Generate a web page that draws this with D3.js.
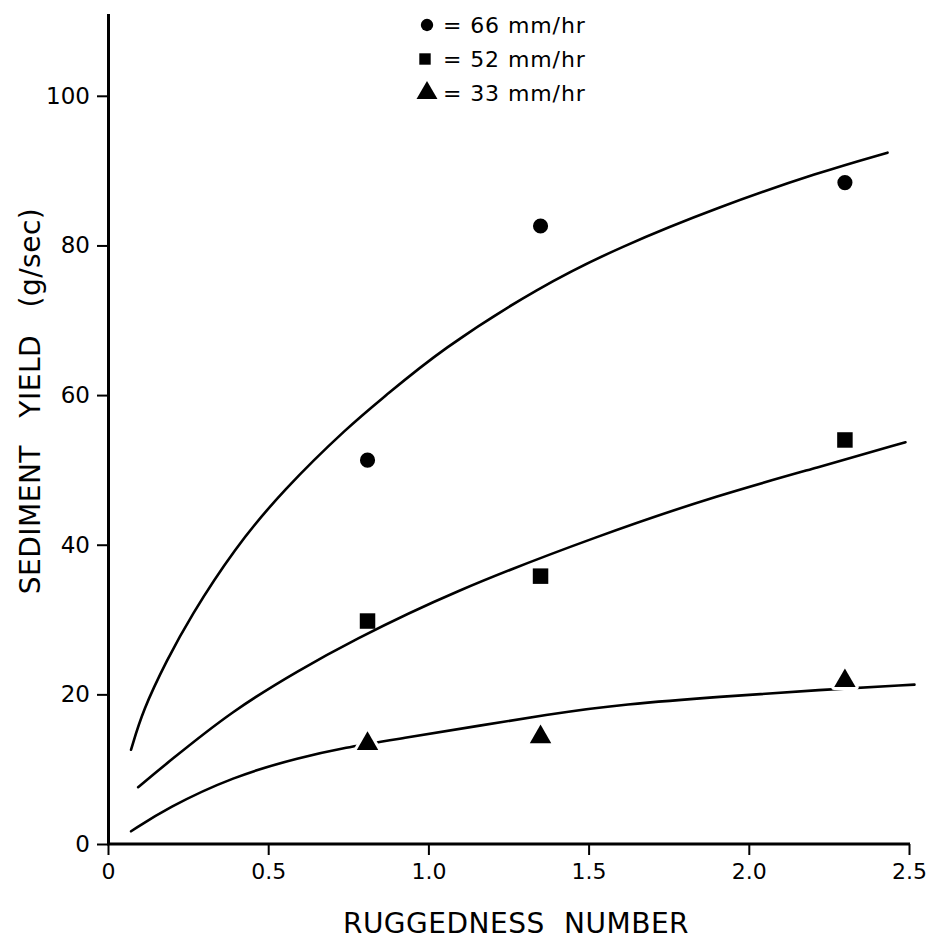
<!DOCTYPE html>
<html>
<head>
<meta charset="utf-8">
<script src="https://cdn.jsdelivr.net/npm/d3@7"></script>
<style>
  html, body { margin: 0; padding: 0; background: #fff; }
  svg { display: block; font-family: "DejaVu Sans", sans-serif; }
</style>
</head>
<body>
<svg id="chart" width="932" height="951"></svg>
<script>
// ---- data ----
const intensities = ["66 mm/hr", "52 mm/hr", "33 mm/hr"];
const ruggedness = [0.81, 1.35, 2.30];
const yield66 = [51.3, 82.6, 88.4];
const yield52 = [29.8, 35.8, 54.0];
const yield33 = [13.4, 14.3, 21.8];

// fitted curves
const curveX66 = [0.072, 0.109, 0.184, 0.256, 0.393, 0.546, 0.755, 0.858, 1.036, 1.347, 1.597, 1.909, 2.221, 2.433];
const curveY66 = [12.6, 17.9, 24.6, 30.3, 39.4, 47.3, 56.0, 59.6, 66.0, 74.5, 79.8, 85.2, 89.8, 92.4];
const curveX52 = [0.094, 0.184, 0.390, 0.599, 0.755, 1.067, 1.535, 1.909, 2.221, 2.489];
const curveY52 = [7.6, 10.8, 17.9, 23.3, 27.0, 33.6, 41.3, 46.7, 50.4, 53.7];
const curveX33 = [0.072, 0.184, 0.390, 0.599, 0.755, 0.842, 1.441, 1.597, 1.909, 2.221, 2.517];
const curveY33 = [1.7, 4.8, 9.0, 11.6, 13.0, 13.6, 17.8, 18.6, 19.7, 20.6, 21.3];

const xTicks = [0, 0.5, 1.0, 1.5, 2.0, 2.5];
const xTickLabels = ["0", "0.5", "1.0", "1.5", "2.0", "2.5"];
const yTicks = [0, 20, 40, 60, 80, 100];
const xTitle = "RUGGEDNESS NUMBER";
const yTitle = "SEDIMENT YIELD (g/sec)";

// ---- build ----
const svg = d3.select("#chart");
const x = d3.scaleLinear().domain([0, 2.5]).range([108, 909]);
const y = d3.scaleLinear().domain([0, 111]).range([844, 13.5]);

const series = [
  { name: intensities[0], vals: yield66, cx: curveX66, cy: curveY66, shape: d3.symbolCircle, size: 180 },
  { name: intensities[1], vals: yield52, cx: curveX52, cy: curveY52, shape: d3.symbolSquare, size: 240 },
  { name: intensities[2], vals: yield33, cx: curveX33, cy: curveY33, shape: d3.symbolTriangle, size: 200 }
];

// curves
const line = d3.line().x(d => x(d[0])).y(d => y(d[1])).curve(d3.curveBasis);
series.forEach(s => {
  svg.append("path")
    .attr("d", line(s.cx.map((v, i) => [v, s.cy[i]])))
    .attr("fill", "none")
    .attr("stroke", "#000")
    .attr("stroke-width", 2.6)
    .attr("stroke-linecap", "round");
});

// markers
series.forEach(s => {
  svg.selectAll(null)
    .data(s.vals.map((v, i) => [ruggedness[i], v]))
    .join("path")
    .attr("transform", d => `translate(${x(d[0])},${y(d[1])})`)
    .attr("d", d3.symbol().type(s.shape).size(s.size)())
    .attr("fill", "#000")
    .attr("stroke", s.shape === d3.symbolTriangle ? "#fff" : "none")
    .attr("stroke-width", 6)
    .attr("stroke-linejoin", "round")
    .style("paint-order", "stroke");
});

// axes
const xAxis = d3.axisBottom(x).tickValues(xTicks)
  .tickFormat((d, i) => xTickLabels[i]).tickSize(11).tickSizeOuter(0).tickPadding(8);
const gx = svg.append("g").attr("transform", `translate(0,${y(0)})`).call(xAxis);
gx.select(".domain").attr("stroke-width", 3).attr("d", `M${x(0) - 1},0H${x(2.5) + 1}`);
gx.selectAll(".tick line").attr("stroke-width", 2);
gx.selectAll(".tick text").attr("font-size", 22).attr("font-family", "DejaVu Sans").attr("fill", "#000");

const yAxis = d3.axisLeft(y).tickValues(yTicks).tickSize(11).tickSizeOuter(0).tickPadding(7);
const gy = svg.append("g").attr("transform", `translate(${x(0)},0)`).call(yAxis);
gy.select(".domain").attr("stroke-width", 3);
gy.selectAll(".tick line").attr("stroke-width", 2);
gy.selectAll(".tick text").attr("font-size", 23).attr("font-family", "DejaVu Sans").attr("fill", "#000");

// axis titles
svg.append("text")
  .attr("x", 516).attr("y", 933)
  .attr("text-anchor", "middle")
  .attr("font-size", 28)
  .style("word-spacing", "10px")
  .style("letter-spacing", "0.5px")
  .text(xTitle);

svg.append("text")
  .attr("transform", "translate(40,401) rotate(-90)")
  .attr("text-anchor", "middle")
  .attr("font-size", 28)
  .style("word-spacing", "18px")
  .style("letter-spacing", "0.5px")
  .text(yTitle);

// legend
const legY = [25, 59, 93];
series.forEach((s, i) => {
  const sz = i === 0 ? 120 : (i === 1 ? 130 : 190);
  svg.append("path")
    .attr("transform", `translate(${i === 1 ? 425 : 427},${legY[i]})`)
    .attr("d", d3.symbol().type(s.shape).size(sz)())
    .attr("fill", "#000");
  svg.append("text")
    .attr("x", 443).attr("y", legY[i] + 8)
    .attr("font-size", 22)
    .style("letter-spacing", "0.9px")
    .text("= " + s.name);
});
</script>
</body>
</html>
